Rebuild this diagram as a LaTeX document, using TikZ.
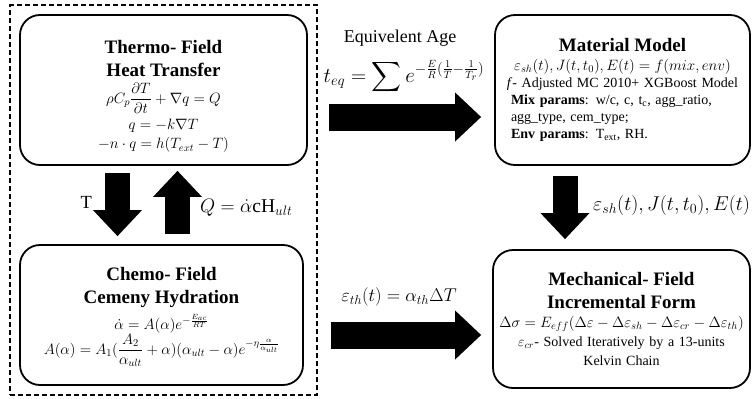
\documentclass[tikz,border=0pt]{standalone}
\usepackage{fix-cm}
\usepackage{amsmath}
\usepackage{fontspec}
\setmainfont{Liberation Serif}
\usetikzlibrary{positioning,arrows.meta,fit}
\newcommand\fieldhead[1]{{\fontsize{19}{23}\selectfont\bfseries #1\par}}
\newcommand\eqline[1]{{\fontsize{15}{19}\selectfont\mbox{$#1$}\par}}
\tikzset{
  box/.style={draw=black, line width=1.8pt, rounded corners=20pt, align=center,
              inner sep=0pt, font=\fontsize{14}{17}\selectfont},
  frame/.style={draw=black, line width=1.6pt, dash pattern=on 5pt off 3pt, inner sep=9pt},
  blk/.style={draw=black, line width=26pt,
              -{Triangle[length=26pt, width=49pt, line width=0pt]}},
  lbl/.style={font=\fontsize{18.5}{22}\selectfont, inner sep=1pt},
}
\begin{document}
\begin{tikzpicture}[x=1pt, y=-1pt]
  \useasboundingbox (0,0) rectangle (753,399);

  % ------------------------------------------------ coupled thermo-chemical fields
  \node[box, text width=287pt, minimum height=150pt] (thermo) at (163.5,90)
    {\fieldhead{\rule{0pt}{26pt}Thermo- Field\par Heat Transfer}
     \vspace{5pt}
     \eqline{\rho C_p\dfrac{\partial T}{\partial t}+\nabla q=Q}
     \vspace{5pt}
     \eqline{q=-k\nabla T}
     \eqline{-n\cdot q=h(T_{ext}-T)}};
  \node[box, text width=283pt, minimum height=140pt] (chemo) at (161.5,315)
    {\fieldhead{\rule{0pt}{17pt}Chemo- Field\par Cemeny Hydration}
     \vspace{6pt}
     \eqline{\dot\alpha=A(\alpha)e^{-\frac{E_{ac}}{RT}}}
     \eqline{A(\alpha)=A_1(\dfrac{A_2}{\alpha_{ult}}+\alpha)(\alpha_{ult}-\alpha)e^{-\eta\frac{\alpha}{\alpha_{ult}}}}};
  \node[frame, fit=(thermo)(chemo)] (coupled) {};

  % ------------------------------------------------ material and mechanics
  \node[box, text width=255pt, minimum height=150pt] (material) at (622.5,90)
    {\fieldhead{Material Model}
     \eqline{\varepsilon_{sh}(t),J(t,t_0),E(t)=f(mix,env)}
     \textit{f}- Adjusted MC 2010+ XGBoost Model\par
     {\raggedright\hspace*{16pt}\textbf{Mix params}: w/c, c, t\textsubscript{c}, agg\_ratio,\\
      \hspace*{16pt}agg\_type, cem\_type;\\
      \hspace*{16pt}\textbf{Env params}: T\textsubscript{ext}, RH.\par}};
  \node[box, text width=257pt, minimum height=138pt] (mech) at (621.5,319)
    {\fieldhead{Mechanical- Field\par Incremental Form}
     \eqline{\Delta\sigma=E_{eff}(\Delta\varepsilon-\Delta\varepsilon_{sh}-\Delta\varepsilon_{cr}-\Delta\varepsilon_{th})}
     {\baselineskip=19pt $\varepsilon_{cr}$- Solved Iteratively by a 13-units\par
     Kelvin Chain\par}};

  % ------------------------------------------------ block arrows
  \draw[blk, line width=27pt, shorten <=21pt, shorten >=13pt]
    ([yshift=-27pt]thermo.east) -- ([yshift=-27pt]thermo.east -| material.west);
  \draw[blk, line width=27pt, shorten <=27pt, shorten >=11pt]
    ([yshift=-20pt]chemo.east) -- ([yshift=-20pt]chemo.east -| mech.west);
  \draw[blk, line width=25pt, shorten <=7pt, shorten >=8pt]
    ([xshift=-46pt]thermo.south) -- ([xshift=-46pt]thermo.south |- chemo.north);
  \draw[blk, line width=25pt, shorten <=10pt, shorten >=5pt]
    ([xshift=16pt]chemo.north) -- ([xshift=16pt]chemo.north |- thermo.south);
  \draw[blk, line width=25pt, shorten <=10pt, shorten >=10pt]
    ([xshift=-57.5pt]material.south) -- ([xshift=-57.5pt]material.south |- mech.north);

  % ------------------------------------------------ what each arrow passes
  \node[lbl, font=\fontsize{18}{20}\selectfont] (age) at (400,38) {Equivelent Age};
  \node[lbl, font=\fontsize{21}{23}\selectfont] (teq) at (404,77)
    {$\displaystyle t_{eq}=\sum e^{-\frac{E}{R}(\frac{1}{T}-\frac{1}{T_r})}$};
  \node[lbl] (eth) at (399,297) {$\varepsilon_{th}(t)=\alpha_{th}\Delta T$};
  \node[lbl, anchor=west, font=\fontsize{20}{22}\selectfont] (esh) at (592,205) {$\varepsilon_{sh}(t),J(t,t_0),E(t)$};
  \node[lbl, anchor=west, font=\fontsize{19.5}{22}\selectfont] (qsrc) at (199,208) {$Q=\dot\alpha\mathrm{cH}_{ult}$};
  \node[lbl, anchor=east] (tin) at (93,202) {T};
\end{tikzpicture}
\end{document}
